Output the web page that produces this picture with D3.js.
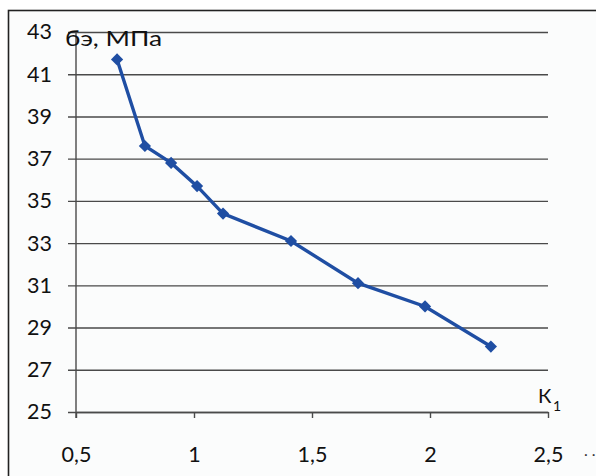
<!DOCTYPE html>
<html><head><meta charset="utf-8">
<script src="https://cdn.jsdelivr.net/npm/d3@7"></script>
<style>html,body{margin:0;padding:0;background:#fff;}svg{display:block;}</style>
</head><body>
<svg id="c" width="596" height="476"></svg>
<script>
const xValues = [0.674, 0.792, 0.903, 1.013, 1.123, 1.411, 1.695, 1.979, 2.258];
const yValues = [41.7, 37.6, 36.8, 35.7, 34.4, 33.1, 31.1, 30.0, 28.1];
const xTicks = [0.5, 1, 1.5, 2, 2.5];
const yTicks = [25, 27, 29, 31, 33, 35, 37, 39, 41, 43];
const yTitle = "бэ, МПа";
const xTitle = "К";
const xTitleSub = "1";

const svg = d3.select("#c");
const font = "Lato, 'Open Sans', sans-serif";
svg.append("rect").attr("x", 8.5).attr("y", 10.5).attr("width", 600).attr("height", 480)
  .attr("fill", "#fbfcfc").attr("stroke", "#222").attr("stroke-width", 1.6);

const x = d3.scaleLinear().domain([0.5, 2.5]).range([76, 548]);
const y = d3.scaleLinear().domain([25, 43]).range([412, 32]);
const fmt = d => String(d).replace(".", ",");

// gridlines + y axis
const yAxis = d3.axisLeft(y).tickValues(yTicks).tickFormat(fmt).tickSize(-(548 - 76)).tickSizeOuter(0);
const gy = svg.append("g").attr("transform", "translate(76,0)").call(yAxis);
gy.select(".domain").remove();
gy.selectAll(".tick line").attr("x1", -8).attr("stroke", "#4a4a4a").attr("stroke-width", 1.4);
gy.selectAll(".tick text").attr("x", -24).attr("font-family", font).attr("font-size", 21.5).attr("fill", "#111");

// x axis
const xAxis = d3.axisBottom(x).tickValues(xTicks).tickFormat(fmt).tickSize(6).tickSizeOuter(0);
const gx = svg.append("g").attr("transform", "translate(0,412)").call(xAxis);
gx.select(".domain").attr("stroke", "#4a4a4a").attr("stroke-width", 1.4);
gx.selectAll(".tick line").attr("stroke", "#4a4a4a").attr("stroke-width", 1.4);
gx.selectAll(".tick text").attr("y", 34.5).attr("font-family", font).attr("font-size", 21.5).attr("fill", "#111");

// vertical axis line
svg.append("line").attr("x1", 76).attr("x2", 76).attr("y1", y(43)).attr("y2", 418)
  .attr("stroke", "#4a4a4a").attr("stroke-width", 1.4);

const data = xValues.map((v, i) => [v, yValues[i]]);
const color = "#1f4ea3";
svg.append("path").datum(data)
  .attr("d", d3.line().x(d => x(d[0])).y(d => y(d[1])))
  .attr("fill", "none").attr("stroke", color).attr("stroke-width", 3.4);
svg.selectAll(".pt").data(data).join("path").attr("class", "pt")
  .attr("transform", d => `translate(${x(d[0])},${y(d[1])})`)
  .attr("d", d3.symbol().type(d3.symbolDiamond2).size(95)())
  .attr("fill", color);

// titles
svg.append("text").attr("x", 65).attr("y", 46).attr("font-family", font).attr("font-size", 21)
  .attr("textLength", 97).attr("lengthAdjust", "spacingAndGlyphs")
  .attr("fill", "#111").text(yTitle);
svg.append("text").attr("x", 538).attr("y", 403).attr("font-family", font).attr("font-size", 20)
  .attr("fill", "#111").text(xTitle);
svg.append("text").attr("x", 553).attr("y", 411).attr("font-family", font).attr("font-size", 14)
  .attr("fill", "#111").text(xTitleSub);
svg.append("text").attr("x", 584).attr("y", 456).attr("font-family", font).attr("font-size", 16).attr("fill", "#333").text(". .");
</script>
</body></html>
